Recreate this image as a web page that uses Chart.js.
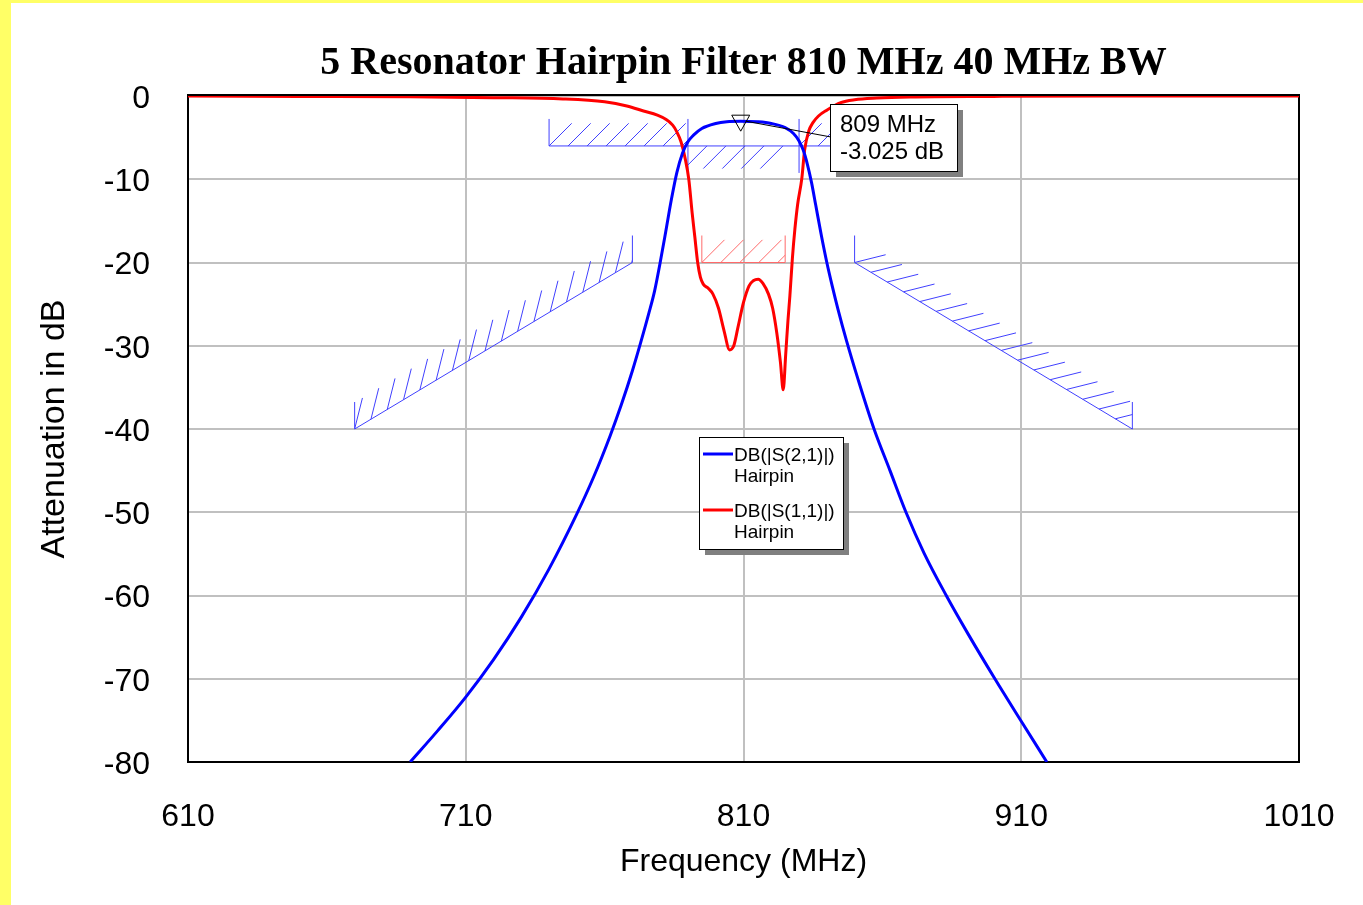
<!DOCTYPE html>
<html>
<head>
<meta charset="utf-8">
<script src="https://cdn.jsdelivr.net/npm/chart.js@4/dist/chart.umd.min.js"></script>
<style>
  html, body { margin: 0; padding: 0; background: #ffff66; }
  #wrap { position: relative; width: 1363px; height: 905px; overflow: hidden; }
  #paper { position: absolute; left: 11px; top: 3px; right: 0; bottom: 0; background: #fff; }
  #chart { position: absolute; left: 0; top: 0; width: 1363px; height: 905px; }
</style>
</head>
<body>
<div id="wrap"><div id="paper"></div><canvas id="chart" width="1363" height="905"></canvas></div>
<script>
// S21 (transmission), MHz / dB
const s21Freq = [690, 700, 710, 720, 730, 740, 750, 756, 762, 766, 770, 773, 776, 778, 780, 782, 784, 786, 788, 790, 792, 795, 800, 804, 809,
  815, 820, 825, 828, 830, 831.5, 833, 834.5, 836, 838, 840, 842, 844, 847, 851.3, 857, 862.75, 868.5, 875, 883, 891, 900.5, 910, 919.2];
const s21Db = [-80, -76.2, -72.2, -67.7, -62.6, -56.8, -50.2, -45.8, -40.8, -37.1, -33, -29.6, -26, -23.4, -20, -16.3, -12.5, -9.2, -6.9, -5.5, -4.7, -3.9, -3.3, -3.08, -3.025,
  -3.1, -3.3, -3.8, -4.5, -5.4, -6.5, -8.2, -10.4, -13.1, -16.7, -20, -22.9, -25.6, -29.3, -34.1, -40, -45, -50, -54.9, -60, -64.7, -70, -75.1, -80];

// S11 (return loss)
const s11Freq = [610, 650, 690, 720, 745, 760, 768, 774, 779, 782, 784.5, 786, 787.5, 789, 790.3, 791.5, 792.5, 793.5, 794.5, 795.5, 797.3, 799,
  801, 803, 805, 806.5, 808, 810, 812, 813.5, 815.3, 817, 819, 820.5, 822, 823.3, 824.3, 825.2, 826, 826.7, 827.6, 828.5, 829.5, 831, 832,
  833.5, 835, 837, 840, 845, 850, 858, 870, 900, 940, 1010];
const s11Db = [0, -0.05, -0.1, -0.2, -0.35, -0.7, -1.2, -1.8, -2.3, -2.8, -3.5, -4.3, -5.5, -7.5, -10, -14, -17, -20, -21.8, -22.6, -23.1, -23.8,
  -25.5, -28.2, -30.5, -30, -27.8, -24.8, -22.8, -22.2, -22.0, -22.5, -23.8, -25.5, -28.5, -32, -35.3, -31, -27, -24, -19.5, -16, -13, -9.9, -6.5,
  -4.2, -3.2, -2.4, -1.7, -0.8, -0.45, -0.25, -0.12, -0.05, 0, 0];

// spec masks (hatched goals)
const maskFreqStart = [740, 790, 830, 670, 850, 795];
const maskFreqEnd   = [790, 830, 880, 770, 950, 825];
const maskDbStart   = [-6, -6, -6, -40, -20, -20];
const maskDbEnd     = [-6, -6, -6, -20, -40, -20];
const maskSide      = ['above', 'below', 'above', 'above', 'above', 'above'];
const maskColor     = ['#4040ff', '#4040ff', '#4040ff', '#4040ff', '#4040ff', '#ff6a6a'];

const xTicks = [610, 710, 810, 910, 1010];
const yTicks = [0, -10, -20, -30, -40, -50, -60, -70, -80];

const markerFreq = 809;
const markerDb = -3.025;

const FONT = '"Liberation Sans", Arial, sans-serif';

function pairs(fs, ds) {
  return fs.map((f, i) => ({ x: f, y: ds[i] }));
}

function drawMask(chart, i) {
  const { ctx, scales: { x, y } } = chart;
  const x1 = x.getPixelForValue(maskFreqStart[i]), y1 = y.getPixelForValue(maskDbStart[i]);
  const x2 = x.getPixelForValue(maskFreqEnd[i]), y2 = y.getPixelForValue(maskDbEnd[i]);
  const len = Math.hypot(x2 - x1, y2 - y1);
  let dx = (x2 - x1) / len, dy = (y2 - y1) / len;
  if (maskSide[i] === 'below') { dx = -dx; dy = -dy; }
  // hatch stroke: line direction turned 45 deg towards the hatched side
  const hx = (dx + dy) * Math.SQRT1_2 * 32;
  const hy = (-dx + dy) * Math.SQRT1_2 * 32;
  const vh = maskSide[i] === 'below' ? 27 : -27;

  ctx.save();
  ctx.strokeStyle = maskColor[i];
  ctx.lineWidth = 1;
  ctx.beginPath();
  ctx.moveTo(x1, y1); ctx.lineTo(x2, y2);
  ctx.moveTo(x1, y1); ctx.lineTo(x1, y1 + vh);
  ctx.moveTo(x2, y2); ctx.lineTo(x2, y2 + vh);
  ctx.stroke();

  ctx.beginPath();
  ctx.rect(x1, 0, x2 - x1, chart.height);
  ctx.clip();
  ctx.beginPath();
  for (let t = 0; t <= len + 0.5; t += 19) {
    const bx = x1 + (x2 - x1) * t / len;
    const by = y1 + (y2 - y1) * t / len;
    ctx.moveTo(bx, by);
    ctx.lineTo(bx + hx, by + hy);
  }
  ctx.stroke();
  ctx.restore();
}

function boxWithShadow(ctx, l, t, w, h) {
  ctx.fillStyle = '#808080';
  ctx.fillRect(l + 6, t + 6, w, h);
  ctx.fillStyle = '#fff';
  ctx.fillRect(l, t, w, h);
  ctx.strokeStyle = '#000';
  ctx.lineWidth = 1;
  ctx.strokeRect(l + 0.5, t + 0.5, w, h);
}

const overlay = {
  id: 'overlay',
  beforeDatasetsDraw(chart) {
    const { ctx, chartArea: a } = chart;
    ctx.save();
    ctx.strokeStyle = '#000';
    ctx.lineWidth = 2;
    ctx.strokeRect(a.left, a.top - 1, a.right - a.left, a.bottom - a.top + 1);
    ctx.restore();
    for (let i = 0; i < maskFreqStart.length; i++) drawMask(chart, i);
  },
  afterDatasetsDraw(chart) {
    const { ctx, chartArea: a, scales: { x, y } } = chart;
    ctx.save();

    // marker
    const mx = x.getPixelForValue(markerFreq), my = y.getPixelForValue(markerDb);
    ctx.strokeStyle = '#000';
    ctx.lineWidth = 1;
    ctx.beginPath();
    ctx.moveTo(mx - 9, my - 6); ctx.lineTo(mx + 9, my - 6); ctx.lineTo(mx, my + 10); ctx.closePath();
    ctx.stroke();
    ctx.beginPath();
    ctx.moveTo(mx + 5, my); ctx.lineTo(831, 137);
    ctx.stroke();
    boxWithShadow(ctx, 830, 104, 127, 67);
    ctx.fillStyle = '#000';
    ctx.font = '24px ' + FONT;
    ctx.textAlign = 'left';
    ctx.textBaseline = 'alphabetic';
    ctx.fillText(markerFreq + ' MHz', 840, 132);
    ctx.fillText(markerDb.toFixed(3) + ' dB', 840, 159);

    // legend
    boxWithShadow(ctx, 699, 437, 144, 112);
    const ds = chart.data.datasets;
    const rows = [454, 510];
    ctx.font = '19px ' + FONT;
    rows.forEach((ry, k) => {
      ctx.strokeStyle = ds[k].borderColor;
      ctx.lineWidth = 3;
      ctx.beginPath();
      ctx.moveTo(703, ry); ctx.lineTo(733, ry);
      ctx.stroke();
      ctx.fillStyle = '#000';
      const parts = ds[k].label.split('\n');
      ctx.fillText(parts[0], 734, ry + 7);
      ctx.fillText(parts[1], 734, ry + 28);
    });

    // title
    ctx.font = 'bold 40px "Liberation Serif", "Times New Roman", serif';
    ctx.textAlign = 'center';
    ctx.fillText('5 Resonator Hairpin Filter 810 MHz 40 MHz BW', (a.left + a.right) / 2, 74);
    ctx.restore();
  }
};

new Chart(document.getElementById('chart'), {
  type: 'line',
  data: {
    datasets: [
      {
        label: 'DB(|S(2,1)|)\nHairpin',
        data: pairs(s21Freq, s21Db),
        borderColor: '#0000ff',
        borderWidth: 3,
        pointRadius: 0,
        cubicInterpolationMode: 'monotone'
      },
      {
        label: 'DB(|S(1,1)|)\nHairpin',
        data: pairs(s11Freq, s11Db),
        borderColor: '#ff0000',
        borderWidth: 3,
        pointRadius: 0,
        cubicInterpolationMode: 'monotone'
      }
    ]
  },
  options: {
    responsive: false,
    animation: false,
    layout: { padding: { left: 11, top: 96, right: 64, bottom: 0 } },
    plugins: {
      legend: { display: false },
      tooltip: { enabled: false },
      title: { display: false }
    },
    scales: {
      x: {
        type: 'linear',
        min: 610,
        max: 1010,
        afterBuildTicks: s => { s.ticks = xTicks.map(v => ({ value: v })); },
        afterFit: s => { s.height = 143; s.paddingLeft = 0; s.paddingRight = 0; },
        ticks: {
          color: '#000', padding: 36, maxRotation: 0, autoSkip: false,
          font: { family: FONT, size: 32 },
          callback: v => String(v)
        },
        grid: { color: '#c0c0c0', lineWidth: 2, drawTicks: false },
        border: { display: true, color: '#000', width: 2 },
        title: {
          display: true,
          text: 'Frequency (MHz)',
          color: '#000',
          font: { family: FONT, size: 32 },
          padding: { top: 0, bottom: 24 }
        }
      },
      y: {
        type: 'linear',
        min: -80,
        max: 0,
        afterBuildTicks: s => { s.ticks = yTicks.map(v => ({ value: v })); },
        afterFit: s => { s.width = 177; },
        ticks: {
          color: '#000', padding: 38, autoSkip: false, labelOffset: 3,
          font: { family: FONT, size: 32 },
          callback: v => String(v)
        },
        grid: { color: '#c0c0c0', lineWidth: 2, drawTicks: false },
        border: { display: true, color: '#000', width: 2 },
        title: {
          display: true,
          text: 'Attenuation in dB',
          color: '#000',
          font: { family: FONT, size: 34 },
          padding: { top: 23, bottom: 0 }
        }
      }
    }
  },
  plugins: [overlay]
});
</script>
</body>
</html>
